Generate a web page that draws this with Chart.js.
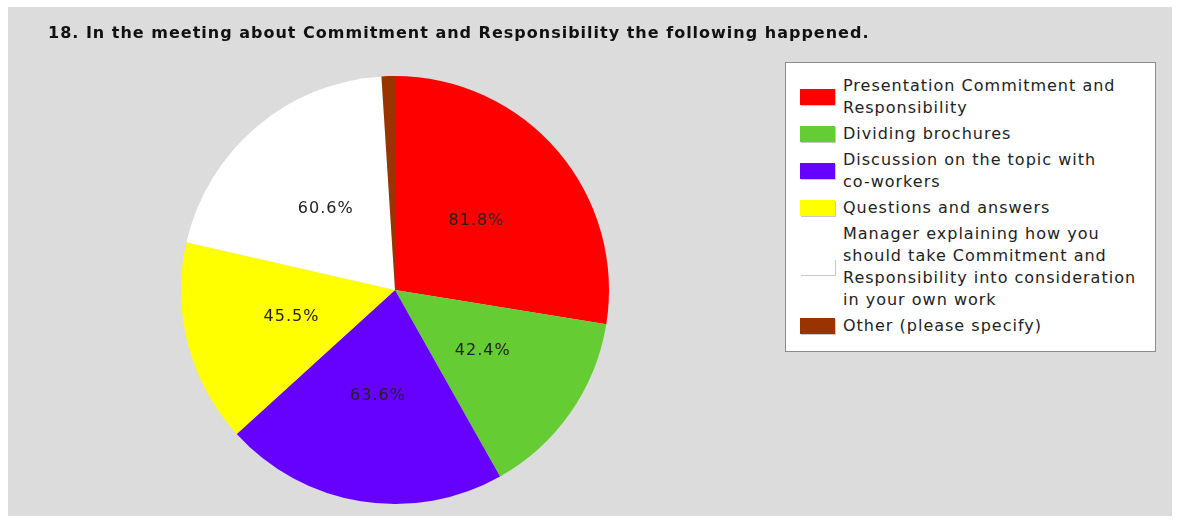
<!DOCTYPE html>
<html>
<head>
<meta charset="utf-8">
<script src="https://cdn.jsdelivr.net/npm/chart.js@4"></script>
<style>
  body { margin: 0; background: #fff; font-family: Verdana, "DejaVu Sans", sans-serif; }
  #panel { position: absolute; left: 8px; top: 7px; width: 1164px; height: 509px; background: #dcdcdc; }
  #title { position: absolute; left: 40px; top: 18px; font-size: 16px; line-height: 16px; font-weight: bold;
           letter-spacing: 1px; color: #111; white-space: nowrap; }
  #chartBox { position: absolute; left: 0; top: 0; width: 780px; height: 509px; }
  #legend { position: absolute; left: 777px; top: 55px; width: 371px; height: 290px;
            background: #fff; border: 1px solid #8c8c8c; box-sizing: border-box; padding-top: 12px; }
  .item { display: flex; align-items: center; margin-bottom: 4px; }
  .swatch { width: 35px; height: 16px; margin-left: 14px; margin-right: 8px; flex: none;
            box-shadow: 1px 1px 0 #c8c8c8; }
  .txt { font-size: 16px; line-height: 22px; letter-spacing: 1px; color: #222; max-width: 300px; }
  .txt span { white-space: nowrap; }
</style>
</head>
<body>
<div id="panel">
  <div id="chartBox"><canvas id="pie"></canvas></div>
  <div id="title"></div>
  <div id="legend"></div>
</div>
<script>
const title = "18. In the meeting about Commitment and Responsibility the following happened.";
const categories = [
  "Presentation Commitment and Responsibility",
  "Dividing brochures",
  "Discussion on the topic with co-workers",
  "Questions and answers",
  "Manager explaining how you should take Commitment and Responsibility into consideration in your own work",
  "Other (please specify)"
];
const percents = [81.8, 42.4, 63.6, 45.5, 60.6, 3.0];
const colors = ["#ff0000", "#66cc33", "#6600ff", "#ffff00", "#ffffff", "#993300"];

document.getElementById('title').textContent = title;

// percentage labels drawn inside the slices
const sliceLabels = {
  id: 'sliceLabels',
  afterDatasetsDraw(chart) {
    const ctx = chart.ctx;
    const meta = chart.getDatasetMeta(0);
    ctx.save();
    ctx.font = '16px Verdana, "DejaVu Sans", sans-serif';
    ctx.letterSpacing = '1px';
    ctx.fillStyle = '#222';
    ctx.textAlign = 'center';
    ctx.textBaseline = 'middle';
    meta.data.forEach((arc, i) => {
      if (arc.endAngle - arc.startAngle < 0.2) return;
      const p = arc.tooltipPosition();
      ctx.fillText(percents[i].toFixed(1) + '%', p.x, p.y);
    });
    ctx.restore();
  }
};

new Chart(document.getElementById('pie'), {
  type: 'pie',
  data: {
    labels: categories,
    datasets: [{
      data: percents,
      backgroundColor: colors,
      borderWidth: 0,
      hoverOffset: 0
    }]
  },
  options: {
    responsive: true,
    maintainAspectRatio: false,
    animation: false,
    layout: { padding: { left: 40, right: 46, top: 69, bottom: 12 } },
    plugins: {
      legend: { display: false },
      tooltip: { enabled: false }
    }
  },
  plugins: [sliceLabels]
});

// legend built from the same arrays; words kept whole so "co-workers" doesn't split
const legend = document.getElementById('legend');
categories.forEach((c, i) => {
  const row = document.createElement('div');
  row.className = 'item';
  const sw = document.createElement('div');
  sw.className = 'swatch';
  sw.style.background = colors[i];
  const t = document.createElement('div');
  t.className = 'txt';
  c.split(' ').forEach((w, j) => {
    if (j > 0) t.appendChild(document.createTextNode(' '));
    const s = document.createElement('span');
    s.textContent = w;
    t.appendChild(s);
  });
  row.appendChild(sw);
  row.appendChild(t);
  legend.appendChild(row);
});
</script>
</body>
</html>
